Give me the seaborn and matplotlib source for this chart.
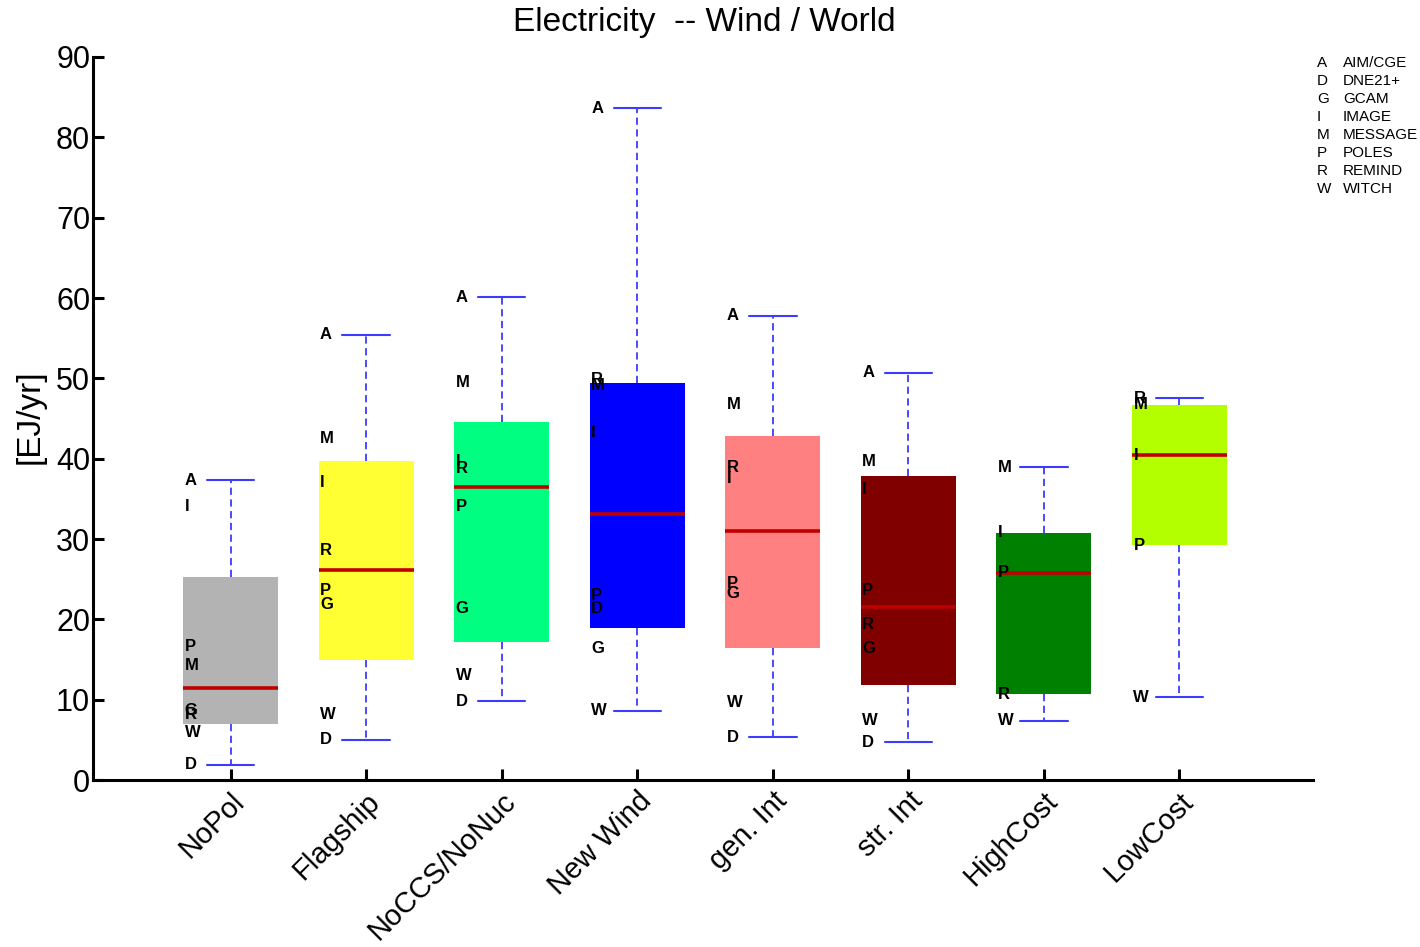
import numpy as np
import matplotlib
matplotlib.use("Agg")
import matplotlib.pyplot as plt
import seaborn as sns

# ---------------- data ----------------
scenarios = ["NoPol", "Flagship", "NoCCS/NoNuc", "New Wind", "gen. Int", "str. Int", "HighCost", "LowCost"]
box_colors = ["#b3b3b3", "#ffff33", "#00ff80", "#0000ff", "#ff8080", "#800000", "#008000", "#b3ff00"]

model_codes = ["A", "D", "G", "I", "M", "P", "R", "W"]
model_names = ["AIM/CGE", "DNE21+", "GCAM", "IMAGE", "MESSAGE", "POLES", "REMIND", "WITCH"]

nan = np.nan
val_A = [37.3, 55.4, 60.1, 83.65, 57.8, 50.7, nan, nan]
val_D = [1.87, 4.98, 9.8, 21.4, 5.35, 4.73, nan, nan]
val_G = [8.6, 21.8, 21.4, 16.4, 23.2, 16.4, nan, nan]
val_I = [34.0, 37.0, 39.7, 43.3, 37.5, 36.1, 30.75, 40.45]
val_M = [14.3, 42.45, 49.5, 49.05, 46.7, 39.6, 38.96, 46.7]
val_P = [16.6, 23.65, 34.1, 23.0, 24.5, 23.65, 25.8, 29.25]
val_R = [8.1, 28.6, 38.8, 49.8, 38.9, 19.3, 10.7, 47.55]
val_W = [5.9, 8.2, 12.95, 8.6, 9.7, 7.35, 7.35, 10.3]

values = {"A": val_A, "D": val_D, "G": val_G, "I": val_I,
          "M": val_M, "P": val_P, "R": val_R, "W": val_W}

yticks = [0, 10, 20, 30, 40, 50, 60, 70, 80, 90]

# ---------------- style ----------------
sns.set_style("ticks")
plt.rcParams["font.family"] = ["Liberation Sans", "DejaVu Sans"]
plt.rcParams["text.color"] = "black"
plt.rcParams["axes.labelcolor"] = "black"
plt.rcParams["xtick.color"] = "black"
plt.rcParams["ytick.color"] = "black"

fig = plt.figure(figsize=(14.2, 9.47), dpi=100)
ax = fig.add_axes([93 / 1420, 1 - 780 / 947, 1220 / 1420, 723 / 947])


def hinges(v):
    s = np.sort(np.asarray(v, dtype=float))
    n = len(s)
    half = (n + 1) // 2
    return np.median(s[:half]), np.median(s), np.median(s[n - half:])


stats = []
for j, sc in enumerate(scenarios):
    vals = [values[m][j] for m in model_codes if not np.isnan(values[m][j])]
    q1, med, q3 = hinges(vals)
    stats.append(dict(med=med, q1=q1, q3=q3, whislo=min(vals), whishi=max(vals), fliers=[], label=sc))

positions = np.arange(1, len(scenarios) + 1) + 0.015
width = 0.7
bp = ax.bxp(stats, positions=positions, widths=width, patch_artist=True,
            showfliers=False, capwidths=0.35,
            boxprops=dict(linewidth=0),
            whiskerprops=dict(color="#3c3cff", linestyle=(0, (4, 2.5)), linewidth=1.3),
            capprops=dict(color="#3c3cff", linewidth=1.5),
            medianprops=dict(color="#c00000", linewidth=2.6))
for patch, c in zip(bp["boxes"], box_colors):
    patch.set_facecolor(c)
    patch.set_edgecolor(c)
for w in bp["whiskers"]:
    w.set_zorder(1)

# model letters
for j, pos in enumerate(positions):
    for m in model_codes:
        v = values[m][j]
        if np.isnan(v):
            continue
        ax.text(pos - width / 2 + 0.01, v, m, ha="left", va="center",
                fontsize=12, fontweight="bold", color="black", zorder=5)

ax.set_xlim(0, 9)
ax.set_ylim(0, 90)
ax.set_yticks(yticks)
ax.set_yticklabels([str(t) for t in yticks], fontsize=22)
ax.set_xticks(positions)
ax.set_xticklabels(scenarios, fontsize=21, rotation=45, ha="right", va="top",
                   rotation_mode="anchor")
ax.tick_params(axis="both", direction="in", length=8, width=2.2, color="black")
ax.tick_params(axis="x", pad=5)
ax.tick_params(axis="y", pad=2)
sns.despine(ax=ax)
for sp in ["left", "bottom"]:
    ax.spines[sp].set_linewidth(2.2)
    ax.spines[sp].set_color("black")

fig.text(704 / 1420, 1 - 22 / 947, "Electricity  -- Wind / World", ha="center", va="center",
         fontsize=24, color="black")
fig.text(30 / 1420, 1 - 417 / 947, "[EJ/yr]", rotation=90, ha="center", va="center",
         fontsize=24, color="black")

# legend of model codes
for i, (c, nm) in enumerate(zip(model_codes, model_names)):
    y = 1 - (63 + 18 * i) / 947
    fig.text(1317 / 1420, y, c, ha="left", va="center", fontsize=11, color="black")
    fig.text(1343 / 1420, y, nm, ha="left", va="center", fontsize=11, color="black")

fig.savefig("out.png", dpi=100)
